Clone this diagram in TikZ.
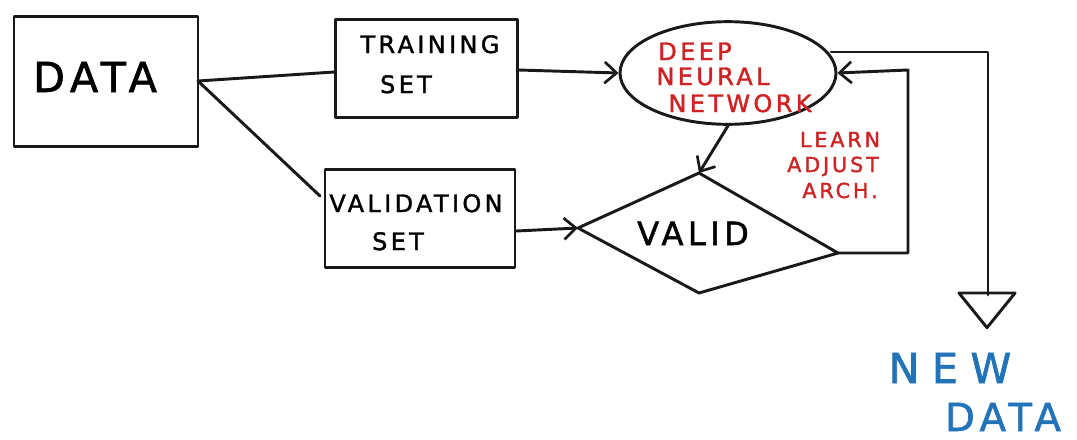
\documentclass[tikz,border=0pt]{standalone}
\usepackage{fontspec}
\setmainfont{DejaVu Sans}
\newfontfamily\hand[LetterSpace=14,FakeBold=1.6]{DejaVu Sans}
\newfontfamily\handwide[LetterSpace=30,FakeBold=1.6]{DejaVu Sans}
\usetikzlibrary{shapes.geometric,arrows.meta}
\definecolor{inkred}{RGB}{205,35,35}
\definecolor{inkblue}{RGB}{35,115,185}
\tikzset{
  ink/.style={line width=2.2pt, draw=black!90, line cap=round, line join=round},
  box/.style={ink, rectangle, inner sep=0pt},
  flow/.style={ink, -{Straight Barb[length=9pt,width=16pt,line width=2pt]}},
  word/.style={anchor=base, inner sep=0pt},
  small/.style={word, font=\hand\fontsize{18}{21}\selectfont},
  redtext/.style={word, text=inkred, font=\hand\fontsize{18}{21}\selectfont},
  redsmall/.style={word, text=inkred, font=\hand\fontsize{15.5}{18}\selectfont}
}
\begin{document}
\begin{tikzpicture}[x=0.75pt,y=-0.75pt]
\useasboundingbox (0,0) rectangle (1077,439);

% data sources
\node[box, minimum width=138pt, minimum height=97pt] (data) at (106,81.5) {};
\node[word, font=\hand\fontsize{31}{34}\selectfont] (dataT) at (95,92) {DATA};
\node[box, minimum width=136pt, minimum height=73pt] (train) at (426.5,68.5) {};
\node[small] (trainA) at (430,53) {TRAINING};
\node[small] (trainB) at (406,93) {SET};
\node[box, minimum width=142.5pt, minimum height=73pt] (valset) at (420,218.5) {};
\node[small] (valA) at (416,212) {VALIDATION};
\node[small] (valB) at (398,250) {SET};

% network
\node[ink, ellipse, minimum width=162pt, minimum height=77pt] (dnn) at (728,73) {};
\node[redtext] (dnnA) at (695,60) {DEEP};
\node[redtext] (dnnB) at (713,85) {NEURAL};
\node[redtext] (dnnC) at (740,112) {NETWORK};

% validation check
\coordinate (vt) at (699,173);
\coordinate (vl) at (578,228);
\coordinate (vr) at (838,253);
\coordinate (vb) at (699,293);
\draw[ink] (vt) -- (vr) -- (vb) -- (vl) -- cycle;
\node[word, font=\hand\fontsize{24}{27}\selectfont] (valid) at (693,245) {VALID};

\node[redsmall] (learnA) at (840,147) {LEARN};
\node[redsmall] (learnB) at (833,172) {ADJUST};
\node[redsmall] (learnC) at (840,198) {ARCH.};

% connectors
\coordinate (dtr) at (198,81);
\draw[ink] (dtr) -- (train.west |- 0,72);
\draw[ink] (dtr) -- (320,196);
\draw[flow] (train.east |- 0,70) -- (dnn.west);
\draw[flow] (valset.east |- 0,231) -- (vl);
\draw[flow] (dnn.south) -- (vt);
\coordinate (loopr) at (908,253);
\coordinate (loopt) at (908,70);
\draw[flow] (vr) -- (loopr) -- (loopt) -- (dnn.east);

% output to new data
\coordinate (outa) at (831,52);
\coordinate (outb) at (988,52);
\coordinate (outc) at (988,295);
\draw[ink] (outa) -- (outb) -- (outc);
\node[ink, isosceles triangle, shape border rotate=-90, isosceles triangle apex angle=78, minimum height=26pt, inner sep=0pt, anchor=apex] (tri) at (987,330) {};
\node[word, text=inkblue, font=\handwide\fontsize{31}{34}\selectfont] (newA) at (950,383) {NEW};
\node[word, text=inkblue, font=\hand\fontsize{29}{32}\selectfont] (newB) at (1003,431) {DATA};
\end{tikzpicture}
\end{document}
